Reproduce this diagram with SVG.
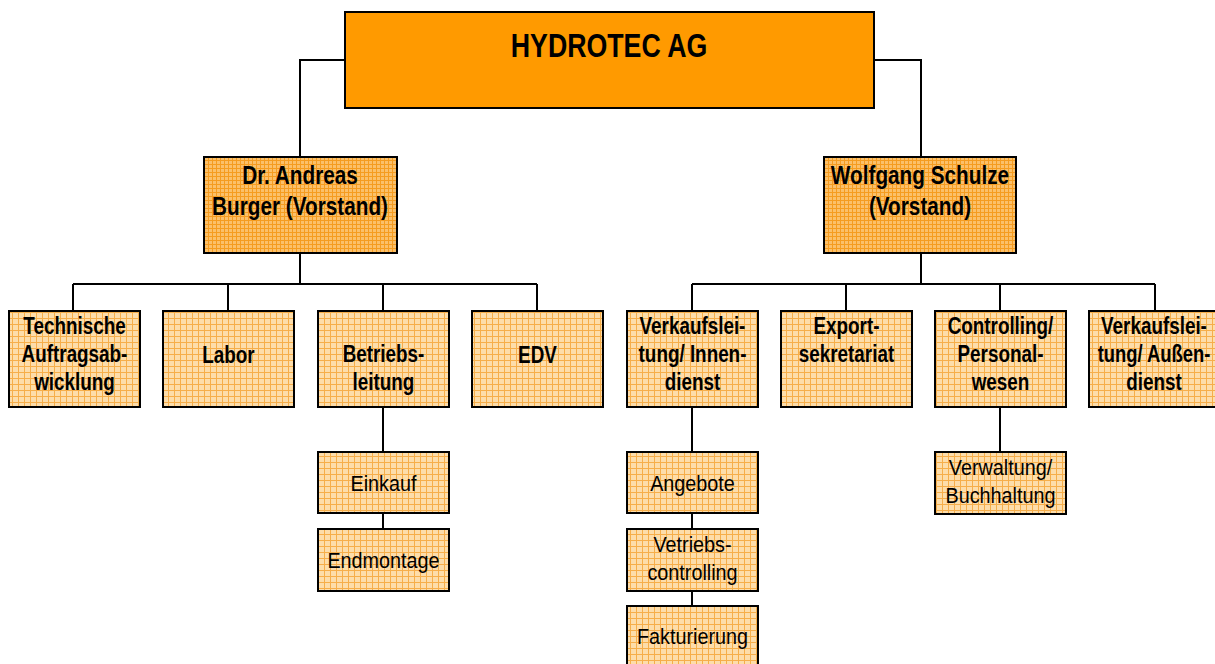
<svg xmlns="http://www.w3.org/2000/svg" width="1215" height="664" viewBox="0 0 1215 664">
<defs>
<pattern id="grid" width="6" height="6" patternUnits="userSpaceOnUse">
<rect width="6" height="6" fill="#FDDDAA"/>
<path d="M0 0.5H6M0.5 0V6" stroke="#F6AE4A" stroke-width="1"/>
</pattern>
<pattern id="dense" width="4" height="4" patternUnits="userSpaceOnUse">
<rect width="4" height="4" fill="#FBC06A"/>
<path d="M0 0.5H4M0.5 0V4" stroke="#F59C20" stroke-width="1"/>
</pattern>
<style>
.top{fill:#FF9A00;stroke:#000;stroke-width:2}
.vs{fill:url(#dense);stroke:#000;stroke-width:2}
.bx{fill:url(#grid);stroke:#000;stroke-width:2}
text{font-family:"Liberation Sans",Arial,sans-serif;text-anchor:middle;fill:#000}
.b{font-weight:bold;font-size:23px}
.v{font-weight:bold;font-size:25px}
.r{font-size:22px}
.h{font-weight:bold;font-size:33px}
.c{fill:none;stroke:#000;stroke-width:2}
</style>
</defs>
<g id="connectors" class="c">
<path d="M345 60H300V157M874 60H921V157"/>
<path d="M300 253V284M73 284H537M73 284V311M228 284V311M383 284V311M537 284V311"/>
<path d="M921 253V284M692 284H1155M692 284V311M846 284V311M1000 284V311M1155 284V311"/>
<path d="M383 407V452M383 513V529"/>
<path d="M692 407V452M692 513V529M692 591V606"/>
<path d="M1000 407V452"/>
</g>
<g id="hydrotec"><rect class="top" x="345" y="12" width="529" height="96"/><text class="h" transform="translate(609 57) scale(0.81 1)">HYDROTEC AG</text></g>
<g id="burger"><rect class="vs" x="204" y="157" width="193" height="96"/><text class="v" transform="translate(300 184) scale(0.83 1)">Dr. Andreas</text><text class="v" transform="translate(300 215) scale(0.83 1)">Burger (Vorstand)</text></g>
<g id="schulze"><rect class="vs" x="824" y="157" width="192" height="96"/><text class="v" transform="translate(920 184) scale(0.83 1)">Wolfgang Schulze</text><text class="v" transform="translate(920 215) scale(0.83 1)">(Vorstand)</text></g>
<g id="technische"><rect class="bx" x="9" y="311" width="131" height="96"/><text class="b" transform="translate(74.5 334) scale(0.82 1)">Technische</text><text class="b" transform="translate(74.5 362) scale(0.82 1)">Auftragsab-</text><text class="b" transform="translate(74.5 390) scale(0.82 1)">wicklung</text></g>
<g id="labor"><rect class="bx" x="163" y="311" width="131" height="96"/><text class="b" transform="translate(228.5 363) scale(0.82 1)">Labor</text></g>
<g id="betrieb"><rect class="bx" x="318" y="311" width="131" height="96"/><text class="b" transform="translate(383.5 362) scale(0.82 1)">Betriebs-</text><text class="b" transform="translate(383.5 390) scale(0.82 1)">leitung</text></g>
<g id="edv"><rect class="bx" x="472" y="311" width="131" height="96"/><text class="b" transform="translate(537.5 363) scale(0.82 1)">EDV</text></g>
<g id="vkinnen"><rect class="bx" x="627" y="311" width="131" height="96"/><text class="b" transform="translate(692.5 334) scale(0.82 1)">Verkaufslei-</text><text class="b" transform="translate(692.5 362) scale(0.82 1)">tung/ Innen-</text><text class="b" transform="translate(692.5 390) scale(0.82 1)">dienst</text></g>
<g id="export"><rect class="bx" x="781" y="311" width="131" height="96"/><text class="b" transform="translate(846.5 334) scale(0.82 1)">Export-</text><text class="b" transform="translate(846.5 362) scale(0.82 1)">sekretariat</text></g>
<g id="controlling"><rect class="bx" x="935" y="311" width="131" height="96"/><text class="b" transform="translate(1000.5 334) scale(0.82 1)">Controlling/</text><text class="b" transform="translate(1000.5 362) scale(0.82 1)">Personal-</text><text class="b" transform="translate(1000.5 390) scale(0.82 1)">wesen</text></g>
<g id="vkaussen"><rect class="bx" x="1089" y="311" width="131" height="96"/><text class="b" transform="translate(1154 334) scale(0.82 1)">Verkaufslei-</text><text class="b" transform="translate(1154 362) scale(0.8 1)">tung/ Außen-</text><text class="b" transform="translate(1154 390) scale(0.82 1)">dienst</text></g>
<g id="einkauf"><rect class="bx" x="318" y="452" width="131" height="61"/><text class="r" transform="translate(383.5 491) scale(0.9 1)">Einkauf</text></g>
<g id="endmontage"><rect class="bx" x="318" y="529" width="131" height="62"/><text class="r" transform="translate(383.5 568) scale(0.9 1)">Endmontage</text></g>
<g id="angebote"><rect class="bx" x="627" y="452" width="131" height="61"/><text class="r" transform="translate(692.5 491) scale(0.9 1)">Angebote</text></g>
<g id="vertriebsctrl"><rect class="bx" x="627" y="529" width="131" height="62"/><text class="r" transform="translate(692.5 552) scale(0.9 1)">Vetriebs-</text><text class="r" transform="translate(692.5 580) scale(0.9 1)">controlling</text></g>
<g id="fakturierung"><rect class="bx" x="627" y="606" width="131" height="62"/><text class="r" transform="translate(692.5 644) scale(0.9 1)">Fakturierung</text></g>
<g id="verwaltung"><rect class="bx" x="935" y="452" width="131" height="62"/><text class="r" transform="translate(1000.5 475) scale(0.9 1)">Verwaltung/</text><text class="r" transform="translate(1000.5 503) scale(0.9 1)">Buchhaltung</text></g>
</svg>
